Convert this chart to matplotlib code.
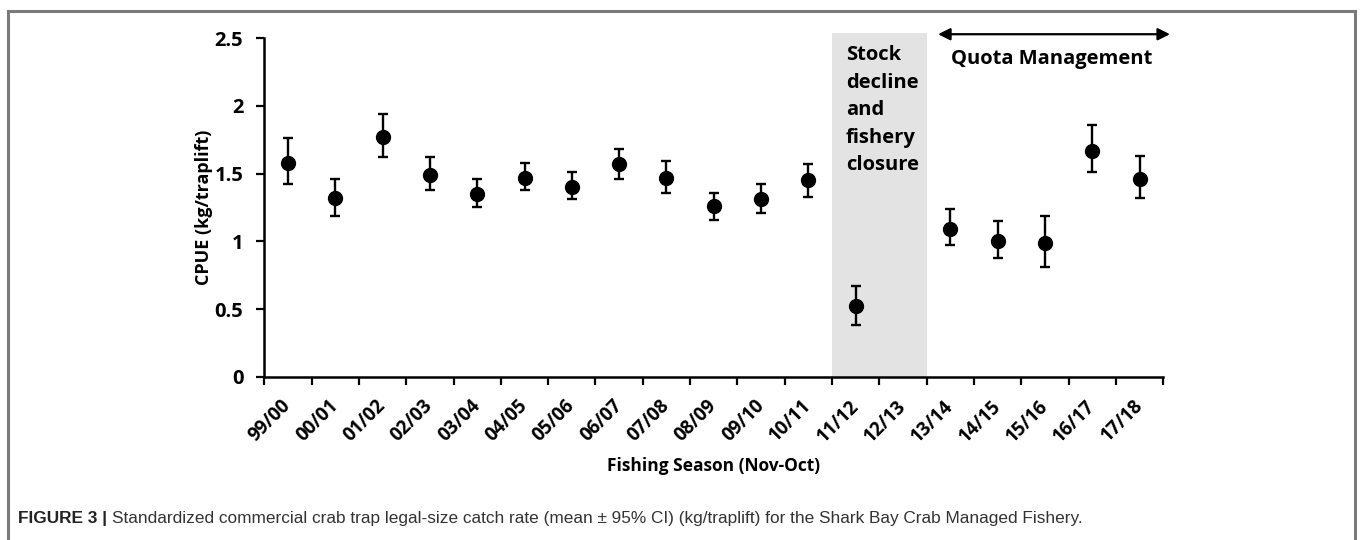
import matplotlib
matplotlib.use("Agg")
import matplotlib.pyplot as plt
import matplotlib.patches as patches
from matplotlib.lines import Line2D
import numpy as np

# Fishing seasons (Nov-Oct) and standardized CPUE with 95% CI bounds
seasons = ["99/00", "00/01", "01/02", "02/03", "03/04", "04/05", "05/06",
           "06/07", "07/08", "08/09", "09/10", "10/11", "11/12", "12/13",
           "13/14", "14/15", "15/16", "16/17", "17/18"]
cpue = [1.58, 1.32, 1.77, 1.49, 1.35, 1.47, 1.40, 1.57, 1.47, 1.26, 1.31,
        1.45, 0.52, np.nan, 1.09, 1.00, 0.99, 1.67, 1.46]
ci_upper = [1.76, 1.46, 1.94, 1.62, 1.46, 1.58, 1.51, 1.68, 1.59, 1.36, 1.42,
            1.57, 0.67, np.nan, 1.24, 1.15, 1.19, 1.86, 1.63]
ci_lower = [1.42, 1.19, 1.62, 1.38, 1.25, 1.38, 1.31, 1.46, 1.36, 1.16, 1.21,
            1.33, 0.38, np.nan, 0.97, 0.88, 0.81, 1.51, 1.32]
yticks = [0, 0.5, 1, 1.5, 2, 2.5]
ytick_labels = ["0", "0.5", "1", "1.5", "2", "2.5"]

closure_seasons = ("11/12", "12/13")
quota_start = "13/14"

FONT = ["Open Sans", "DejaVu Sans"]
CAPTION_FONT = ["Liberation Sans Narrow", "Liberation Sans", "DejaVu Sans"]

fig = plt.figure(figsize=(13.6, 5.4), dpi=100)
ax = fig.add_axes([0.1943, 0.3024, 0.6611, 0.6267])

x = np.arange(len(seasons))
y = np.array(cpue)
err = np.vstack([y - np.array(ci_lower), np.array(ci_upper) - y])

# closure period shading
i0 = seasons.index(closure_seasons[0])
i1 = seasons.index(closure_seasons[1])
shade = patches.Rectangle((i0 - 0.5, 0), i1 - i0 + 1, 2.54,
                          facecolor="#e3e3e3", edgecolor="none",
                          clip_on=False, zorder=0)
ax.add_patch(shade)

ax.errorbar(x, y, yerr=err, fmt="o", color="black", markersize=10,
            elinewidth=1.7, capsize=3.4, capthick=1.7, zorder=3)

ax.set_xlim(-0.5, len(seasons) - 0.5)
ax.set_ylim(0, 2.5)
ax.set_yticks(yticks)
ax.set_yticklabels(ytick_labels, fontsize=14.5, fontweight="bold",
                   family=FONT)
ax.set_xticks(np.arange(len(seasons) + 1) - 0.5)
ax.set_xticklabels([])
ax.set_xticks(x, minor=True)
ax.set_xticklabels(seasons, minor=True, rotation=45, ha="right",
                   va="center", rotation_mode="anchor",
                   fontsize=13.5, fontweight="bold", family=FONT)
ax.tick_params(axis="x", which="minor", length=0, pad=19)
ax.tick_params(axis="both", which="major", direction="out", length=6,
               width=1.6, color="black")
ax.tick_params(axis="y", pad=9)

for side in ("top", "right"):
    ax.spines[side].set_visible(False)
for side in ("left", "bottom"):
    ax.spines[side].set_linewidth(1.8)

ax.set_ylabel("CPUE (kg/traplift)", fontsize=13, fontweight="bold",
              family=FONT, labelpad=1)
ax.set_xlabel("Fishing Season (Nov-Oct)", fontsize=12.5, fontweight="bold",
              family=FONT, labelpad=8)

# period annotations
ax.text(i0 - 0.21, 2.45, "Stock\ndecline\nand\nfishery\nclosure",
        ha="left", va="top", fontsize=14.5, fontweight="bold",
        family=FONT, linespacing=1.5, zorder=4)

q = seasons.index(quota_start)
ax.annotate("", xy=(q - 0.26, 2.53), xytext=(len(seasons) - 0.36, 2.53),
            arrowprops=dict(arrowstyle="<|-|>", color="black", lw=1.6,
                            mutation_scale=18, shrinkA=0, shrinkB=0),
            annotation_clip=False)
ax.text(16.15, 2.35, "Quota Management", ha="center", va="center",
        fontsize=14.5, fontweight="bold", family=FONT)

# figure frame (open at bottom) and caption
frame_kw = dict(color="#7a7a7a", lw=2.2, transform=fig.transFigure)
fig.add_artist(Line2D([7.5 / 1360, 1355 / 1360],
                      [1 - 11 / 540, 1 - 11 / 540], **frame_kw))
fig.add_artist(Line2D([7.5 / 1360, 7.5 / 1360], [0, 1 - 11 / 540], **frame_kw))
fig.add_artist(Line2D([1355 / 1360, 1355 / 1360], [0, 1 - 11 / 540], **frame_kw))

cap_y = 1 - 518 / 540
t1 = fig.text(18 / 1360, cap_y, "FIGURE 3 | ", fontsize=12.4,
              fontweight="bold", family=CAPTION_FONT, va="center",
              color="#222222")
fig.canvas.draw()
bb = t1.get_window_extent()
fig.text(bb.x1 / 1360, cap_y,
         "Standardized commercial crab trap legal-size catch rate "
         "(mean \u00b1 95% CI) (kg/traplift) for the Shark Bay Crab Managed Fishery.",
         fontsize=12.4, family=CAPTION_FONT, va="center", color="#333333")

fig.savefig("out.png", dpi=100, facecolor="white")
plt.close(fig)
